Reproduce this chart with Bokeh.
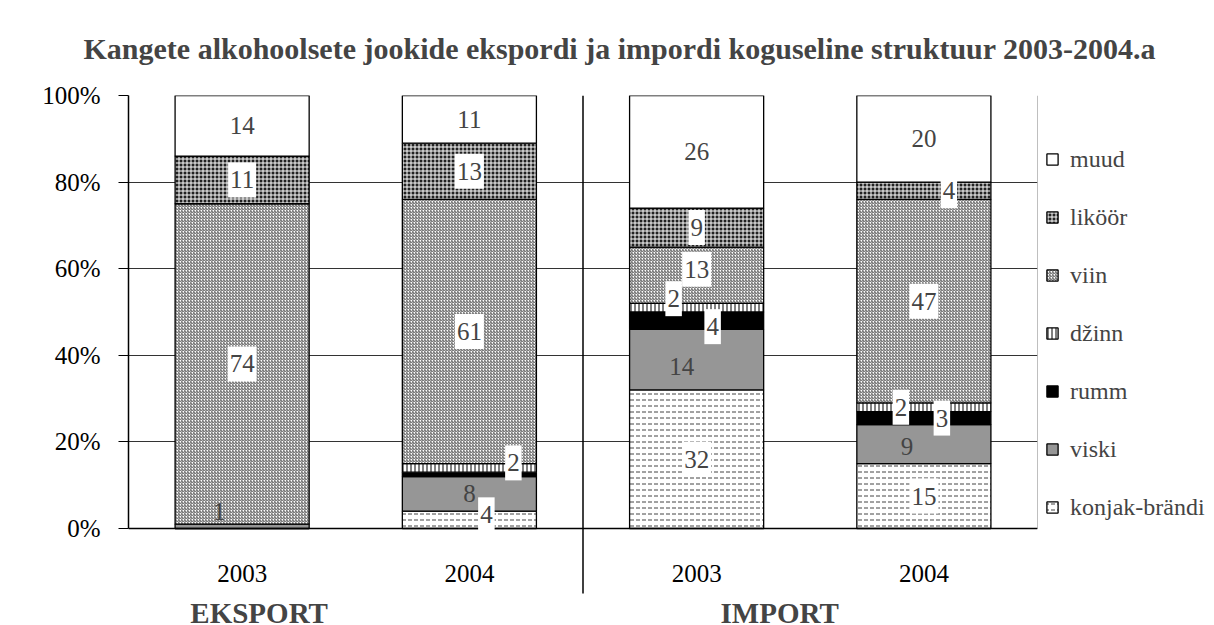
from bokeh.plotting import figure
from bokeh.models import (FactorRange, Range1d, Legend, LegendItem, Label,
                          PrintfTickFormatter, ColumnDataSource)
from bokeh.embed import file_html
from bokeh.resources import INLINE

# ---------------- data ----------------
groups = ["EKSPORT", "EKSPORT", "IMPORT", "IMPORT"]
years = ["2003", "2004", "2003", "2004"]
series_names = ["konjak-brändi", "viski", "rumm", "džinn", "viin", "liköör", "muud"]
konjak = [0, 4, 32, 15]
viski = [1, 8, 14, 9]
rumm = [0, 1, 4, 3]
dzinn = [0, 2, 2, 2]
viin = [74, 61, 13, 47]
likoor = [11, 13, 9, 4]
muud = [14, 11, 26, 20]
y_ticks = [0, 20, 40, 60, 80, 100]
title_text = "Kangete alkohoolsete jookide ekspordi ja impordi koguseline struktuur 2003-2004.a"

# ---------------- style / layout ----------------
FONT = "Liberation Serif"
W, H = 1214, 625
FRAME_LEFT, FRAME_RIGHT, FRAME_TOP, ZERO_Y = 128, 1037, 95, 528
unit_px = (ZERO_Y - FRAME_TOP) / 100.0
y_low = -(H - ZERO_Y) / unit_px           # frame reaches down to canvas bottom
sep_low = -(593 - ZERO_Y) / unit_px        # group separator ends a little above group captions

keys = ["konjak", "viski", "rumm", "dzinn", "viin", "likoor", "muud"]
values = [konjak, viski, rumm, dzinn, viin, likoor, muud]
fills = ["white", "#969696", "black", "white", "white", "#222222", "white"]
hatches = ["horizontal_dash", None, None, "vertical_line", "right_diagonal_line", "cross", None]
hatch_colors = ["#444444", "black", "black", "black", "#555555", "white", "black"]
hatch_scales = [6, 4, 4, 4, 3, 4, 4]
boxed = {"konjak", "rumm", "dzinn", "viin", "likoor"}
hidden = {(1, "rumm")}
nudges = {(0, "viski"): (-23, 15), (1, "konjak"): (17, 5), (1, "dzinn"): (44, 5),
          (2, "viski"): (-15, -7), (2, "rumm"): (16, -6), (2, "dzinn"): (-23, 9),
          (2, "viin"): (0, 6),
          (3, "viski"): (-17, -2), (3, "rumm"): (18, 0), (3, "dzinn"): (-23, 0),
          (3, "likoor"): (25, 0)}
group_caption_nudge = {"EKSPORT": 17, "IMPORT": 83}   # px, relative to first category centre

factors = list(zip(groups, years))
data = dict(x=factors)
for k, v in zip(keys, values):
    data[k] = v
source = ColumnDataSource(data)

xr = FactorRange(*factors, factor_padding=0, group_padding=0, range_padding=0)
p = figure(x_range=xr, y_range=Range1d(y_low, 100),
           frame_width=FRAME_RIGHT - FRAME_LEFT, frame_height=H - FRAME_TOP,
           output_backend="svg", toolbar_location=None,
           min_border_left=FRAME_LEFT, min_border_right=W - FRAME_RIGHT,
           min_border_top=FRAME_TOP, min_border_bottom=0)

renderers = p.vbar_stack(keys, x="x", width=0.59, source=source,
                         fill_color=fills, line_color="black", line_width=1.3,
                         hatch_pattern=hatches, hatch_color=hatch_colors,
                         hatch_scale=hatch_scales, hatch_weight=1)


def synth(i):
    # synthetic coordinate of the i-th factor centre (unit-wide factors, no padding)
    return i + 0.5


# title
p.title.text = title_text
p.title.align = "left"
p.title.offset = -45
p.title.vertical_align = "top"
p.title.text_font = FONT
p.title.text_font_size = "30px"
p.title.text_font_style = "bold"
p.title.standoff = 58

# y axis
p.yaxis.ticker = y_ticks
p.yaxis.bounds = (0, 100)
p.yaxis.formatter = PrintfTickFormatter(format="%d%%")
p.yaxis.major_label_text_font = FONT
p.yaxis.major_label_text_font_size = "25px"
p.yaxis.major_label_text_color = "black"
p.yaxis.major_tick_out = 10
p.yaxis.major_tick_in = 0
p.yaxis.minor_tick_line_color = None
p.yaxis.axis_line_width = 1.5
p.yaxis.major_label_standoff = 18

# x axis (categorical, nested) drawn at 0 %
p.xaxis.fixed_location = 0
p.xaxis.major_label_text_font = FONT
p.xaxis.major_label_text_font_size = "25px"
p.xaxis.major_label_text_color = "black"
p.xaxis.major_tick_line_color = None
p.xaxis.major_label_standoff = 30
p.xaxis.group_text_color = None
p.xaxis.group_text_font_size = "1px"
p.xaxis.separator_line_color = None
p.xaxis.axis_line_width = 1.5

p.xgrid.visible = False
p.ygrid.grid_line_color = "#333333"
p.outline_line_color = None

# plot-area right edge and the EKSPORT / IMPORT separator
n = len(factors)
split = sum(1 for g in groups if g == groups[0])
p.segment(x0=[n], y0=[0], x1=[n], y1=[100], line_color="#808080", line_width=1)
p.segment(x0=[split], y0=[100], x1=[split], y1=[sep_low], line_color="black", line_width=1.5)

# data labels
for i, fac in enumerate(factors):
    base = 0
    for k, v in zip(keys, values):
        val = v[i]
        if val > 0 and (i, k) not in hidden:
            dx, dy = nudges.get((i, k), (0, 0))
            kw = {}
            if k in boxed:
                kw = dict(background_fill_color="white", padding=(2, 9))
            p.add_layout(Label(x=synth(i), y=base + val / 2, text=str(val), x_offset=dx, y_offset=dy,
                               text_align="center", text_baseline="middle",
                               text_font=FONT, text_font_size="25px", **kw))
        base += val

# group captions
for g in ("EKSPORT", "IMPORT"):
    first = [i for i, f in enumerate(factors) if f[0] == g][0]
    p.add_layout(Label(x=synth(first), y=0, x_offset=group_caption_nudge[g], y_offset=-(612 - ZERO_Y),
                       text=g, text_align="center", text_baseline="middle",
                       text_font=FONT, text_font_size="29px", text_font_style="bold"))

# legend
items = [LegendItem(label=nm, renderers=[r]) for nm, r in zip(series_names, renderers)][::-1]
legend = Legend(items=items, location=(8, H - 522), padding=0, margin=0, spacing=28, ncols=1,
                glyph_width=14, glyph_height=14, label_height=30, label_standoff=11,
                label_text_font=FONT, label_text_font_size="24px",
                border_line_color=None, background_fill_color=None)
p.add_layout(legend, "right")

open("out.html", "w").write(file_html(p, INLINE))
